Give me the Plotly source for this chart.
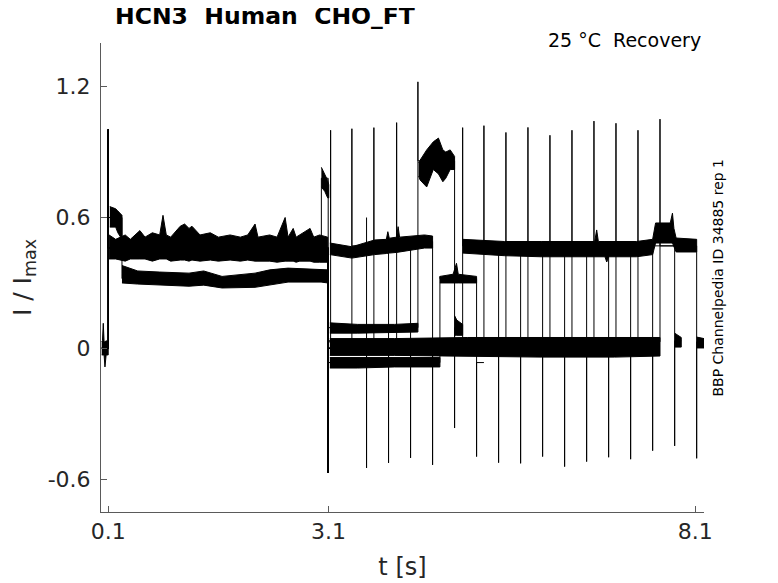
import plotly.graph_objects as go

# ---------------- axis ticks ----------------
X_TICKS = [0.1, 3.1, 8.1]
X_TICK_LABELS = ["0.1", "3.1", "8.1"]
Y_TICKS = [-0.6, 0.0, 0.6, 1.2]
Y_TICK_LABELS = ["-0.6", "0", "0.6", "1.2"]

# ---------------- protocol / sweep values ----------------
P1_ON = 0.1
P1_SWITCH = 0.286
P1_LATE_T = 3.004
P1_OFF = 3.097
P1_PEAK = 1.003
P1_TROUGH = -0.571
TRACE_START = 0.01

P2_ON = [3.13, 3.42, 3.72, 4.03, 4.32, 4.62, 4.93, 5.22,
         5.52, 5.82, 6.12, 6.42, 6.72, 7.02, 7.32, 7.62]
P2_OFF = [3.62, 3.92, 4.22, 4.52, 4.82, 5.12, 5.42, 5.72,
          6.02, 6.32, 6.62, 6.92, 7.22, 7.52, 7.82, 8.12]
SWEEP_END = [3.72, 4.02, 4.32, 4.62, 4.92, 5.22, 5.52, 5.82,
             6.12, 6.42, 6.72, 7.02, 7.32, 7.62, 7.91, 8.22]
P1_START = [0.46, 0.46, 0.46, 0.46, 0.46, 0.60, 0.46, 0.46,
            0.46, 0.46, 0.46, 0.46, 0.46, 0.46, 0.46, 0.46]
P1_LEVEL = [0.46, 0.46, 0.46, 0.46, 0.46, 0.32, 0.46, 0.46,
            0.46, 0.46, 0.46, 0.46, 0.46, 0.46, 0.46, 0.46]
P1_LATE = [0.46, 0.46, 0.46, 0.46, 0.78, 0.32, 0.46, 0.46,
           0.46, 0.46, 0.46, 0.46, 0.46, 0.46, 0.46, 0.46]
P2_LEVEL = [0.46, 0.47, 0.48, 0.49, 0.86, 0.32, 0.47, 0.46,
            0.46, 0.46, 0.46, 0.46, 0.46, 0.46, 0.47, 0.47]
TAIL_LEVEL = [0.0, 0.0, 0.0, 0.0, 0.095, -0.065, 0.0, 0.0,
              0.0, 0.0, 0.0, 0.0, 0.0, 0.0, 0.035, 0.03]
UP_PEAK = [1.000, 1.007, 1.012, 1.035, 1.222, 0.33, 1.012, 1.021,
           0.990, 1.013, 0.977, 1.000, 1.042, 1.032, 1.000, 1.051]
DOWN_TROUGH = [-0.548, -0.525, -0.502, -0.534, -0.365, -0.496, -0.524, -0.527,
               -0.496, -0.542, -0.519, -0.499, -0.508, -0.469, -0.447, -0.504]

# extra short excursions (t, from, to)
STEP_T = [3.62]
STEP_FROM = [0.46]
STEP_TO = [0.60]

# ---------------- noise envelopes: (t, upper, lower) ----------------
BAND_PRE = [(0.010, 0.030, -0.030), (0.020, 0.035, -0.030), (0.031, 0.115, -0.030),
            (0.042, 0.030, -0.030), (0.054, 0.030, -0.085), (0.070, 0.035, -0.030),
            (0.098, 0.030, -0.030)]
BAND_P1_MAIN = [(0.11, 0.52, 0.41), (0.20, 0.50, 0.41), (0.33, 0.52, 0.40),
                (0.40, 0.50, 0.41), (0.53, 0.54, 0.41), (0.60, 0.51, 0.41),
                (0.70, 0.53, 0.40), (0.80, 0.52, 0.41), (0.845, 0.61, 0.41),
                (0.89, 0.52, 0.41), (0.95, 0.51, 0.40), (1.08, 0.56, 0.405),
                (1.14, 0.57, 0.405), (1.20, 0.55, 0.40), (1.24, 0.56, 0.405),
                (1.35, 0.52, 0.40), (1.49, 0.53, 0.405), (1.60, 0.51, 0.40),
                (1.76, 0.52, 0.405), (1.90, 0.51, 0.40), (2.00, 0.52, 0.405),
                (2.10, 0.57, 0.40), (2.14, 0.51, 0.40), (2.30, 0.52, 0.40),
                (2.40, 0.51, 0.395), (2.51, 0.60, 0.40), (2.55, 0.51, 0.40),
                (2.62, 0.55, 0.40), (2.66, 0.51, 0.395), (2.71, 0.52, 0.40),
                (2.85, 0.55, 0.40), (2.90, 0.51, 0.395), (2.98, 0.52, 0.395),
                (3.09, 0.51, 0.395)]
BAND_P1_BUMP = [(0.12, 0.65, 0.556), (0.20, 0.64, 0.556), (0.23, 0.63, 0.53),
                (0.286, 0.61, 0.50)]
BAND_P1_LOW = [(0.286, 0.38, 0.30), (0.50, 0.355, 0.295), (0.80, 0.35, 0.29),
               (1.20, 0.345, 0.285), (1.40, 0.355, 0.29), (1.65, 0.33, 0.277),
               (2.10, 0.345, 0.28), (2.30, 0.36, 0.29), (2.55, 0.368, 0.304),
               (3.00, 0.36, 0.304), (3.09, 0.36, 0.30)]
BAND_P1_END = [(3.004, 0.83, 0.74), (3.05, 0.80, 0.72), (3.09, 0.77, 0.69),
               (3.105, 0.75, 0.69)]
BAND_P2_UP_A = [(3.12, 0.483, 0.43), (3.42, 0.466, 0.414), (3.73, 0.497, 0.43),
                (3.89, 0.50, 0.435), (3.91, 0.535, 0.435), (3.93, 0.505, 0.437),
                (4.03, 0.51, 0.44), (4.05, 0.558, 0.44), (4.07, 0.51, 0.44),
                (4.41, 0.52, 0.46), (4.52, 0.515, 0.46)]
BAND_P2_HIGH = [(4.33, 0.85, 0.79), (4.35, 0.863, 0.772), (4.44, 0.91, 0.74),
                (4.53, 0.947, 0.82), (4.60, 0.964, 0.80), (4.66, 0.91, 0.764),
                (4.70, 0.90, 0.78), (4.76, 0.91, 0.82), (4.82, 0.88, 0.82)]
BAND_P2_LOW = [(4.62, 0.33, 0.30), (4.80, 0.34, 0.30), (4.846, 0.39, 0.30),
               (4.87, 0.34, 0.30), (5.12, 0.33, 0.30)]
BAND_P2_UP_B = [(4.93, 0.50, 0.437), (5.50, 0.49, 0.425), (6.00, 0.49, 0.42),
                (6.50, 0.49, 0.42), (6.73, 0.49, 0.42), (6.757, 0.543, 0.42),
                (6.78, 0.49, 0.42), (6.87, 0.49, 0.42), (6.894, 0.49, 0.396),
                (6.92, 0.49, 0.42), (7.30, 0.49, 0.42), (7.52, 0.50, 0.43),
                (7.56, 0.575, 0.483), (7.76, 0.575, 0.483), (7.79, 0.62, 0.483),
                (7.81, 0.55, 0.47), (7.84, 0.506, 0.442), (8.12, 0.50, 0.442)]
BAND_TAIL_A = [(3.12, 0.117, 0.07), (3.50, 0.11, 0.07), (4.00, 0.11, 0.072),
               (4.32, 0.115, 0.075)]
BAND_TAIL_A2 = [(4.82, 0.15, 0.06), (4.85, 0.13, 0.06), (4.93, 0.11, 0.06)]
BAND_TAIL_B = [(3.12, 0.045, -0.032), (4.00, 0.045, -0.032), (5.00, 0.05, -0.035),
               (6.00, 0.05, -0.04), (7.00, 0.05, -0.04), (7.62, 0.05, -0.035)]
BAND_TAIL_C = [(3.12, -0.042, -0.09), (3.50, -0.042, -0.09), (4.00, -0.042, -0.085),
               (4.62, -0.042, -0.085)]
BAND_TAIL_14 = [(7.82, 0.07, 0.006), (7.91, 0.05, 0.006)]
BAND_TAIL_15 = [(8.12, 0.052, 0.002), (8.22, 0.045, 0.002)]

BANDS = [BAND_PRE, BAND_P1_MAIN, BAND_P1_BUMP, BAND_P1_LOW, BAND_P1_END,
         BAND_P2_UP_A, BAND_P2_HIGH, BAND_P2_LOW, BAND_P2_UP_B,
         BAND_TAIL_A, BAND_TAIL_A2, BAND_TAIL_B, BAND_TAIL_C,
         BAND_TAIL_14, BAND_TAIL_15]

TITLE = "HCN3\u00a0 Human\u00a0 CHO_FT"
CONDITION = "25 °C\u00a0 Recovery"
SOURCE = "BBP Channelpedia ID 34885 rep 1"

# ---------------- figure ----------------
fig = go.Figure()

# sweep polylines (thin lines: spikes and transitions)
sx, sy = [], []
for k in range(len(P2_ON)):
    pts = [(TRACE_START, 0.0), (P1_ON, 0.0), (P1_ON, P1_PEAK), (P1_ON, P1_START[k]),
           (P1_SWITCH, P1_START[k]), (P1_SWITCH, P1_LEVEL[k]),
           (P1_LATE_T, P1_LEVEL[k]), (P1_LATE_T, P1_LATE[k]),
           (P1_OFF, P1_LATE[k]), (P1_OFF, P1_TROUGH), (P1_OFF, TAIL_LEVEL[k]),
           (P2_ON[k], TAIL_LEVEL[k]), (P2_ON[k], UP_PEAK[k]), (P2_ON[k], P2_LEVEL[k]),
           (P2_OFF[k], P2_LEVEL[k]), (P2_OFF[k], DOWN_TROUGH[k]),
           (P2_OFF[k], TAIL_LEVEL[k]), (SWEEP_END[k], TAIL_LEVEL[k])]
    sx += [p[0] for p in pts] + [None]
    sy += [p[1] for p in pts] + [None]
for t, a, b in zip(STEP_T, STEP_FROM, STEP_TO):
    sx += [t, t, None]
    sy += [a, b, None]

fig.add_trace(go.Scatter(x=sx, y=sy, mode="lines",
                         line=dict(color="black", width=1), hoverinfo="skip"))

# noise envelopes
for band in BANDS:
    t = [p[0] for p in band]
    hi = [p[1] for p in band]
    lo = [p[2] for p in band]
    fig.add_trace(go.Scatter(x=t + t[::-1], y=hi + lo[::-1], mode="lines",
                             fill="toself", fillcolor="black",
                             line=dict(color="black", width=1), hoverinfo="skip"))

axis_color = "#5a5a5a"
fig.update_xaxes(range=[0.0, 8.22], tickmode="array", tickvals=X_TICKS,
                 ticktext=X_TICK_LABELS, ticks="inside", ticklen=6,
                 tickcolor=axis_color, showline=True, linecolor=axis_color,
                 linewidth=1, showgrid=False, zeroline=False, automargin=False,
                 tickfont=dict(size=22, color="#262626"), ticklabelstandoff=0,
                 title=dict(text="t [s]", font=dict(size=24, color="#262626"),
                            standoff=14))
fig.update_yaxes(range=[-0.75, 1.4], tickmode="array", tickvals=Y_TICKS,
                 ticktext=Y_TICK_LABELS, ticks="inside", ticklen=6,
                 tickcolor=axis_color, showline=True, linecolor=axis_color,
                 linewidth=1, showgrid=False, zeroline=False, automargin=False,
                 tickfont=dict(size=22, color="#262626"), ticklabelstandoff=5,
                 title=dict(text="I / I<sub>max</sub>",
                            font=dict(size=25, color="#262626"), standoff=14))

# page body adds an 8 px offset, so the figure is 8 px smaller than the window
fig.update_layout(
    width=770, height=575,
    margin=dict(l=93, r=74, t=35, b=71, autoexpand=False),
    plot_bgcolor="white", paper_bgcolor="white",
    showlegend=False,
    font=dict(family="DejaVu Sans", color="#262626"),
    title=dict(text="<b>" + TITLE + "</b>", x=107 / 770, xanchor="left",
               y=1, yanchor="top", automargin=False, pad=dict(t=0),
               font=dict(family="DejaVu Sans", size=23.5, color="black")),
    annotations=[
        dict(text=CONDITION, xref="paper", yref="paper", x=0.998, y=1,
             xanchor="right", yanchor="middle", yshift=3, showarrow=False,
             font=dict(family="DejaVu Sans", size=19, color="black")),
        dict(text=SOURCE, xref="paper", yref="paper", x=1.0216, y=0.5,
             xanchor="center", yanchor="middle", textangle=-90, showarrow=False,
             font=dict(family="DejaVu Sans", size=14, color="black")),
    ],
)

fig.write_html("out.html")
